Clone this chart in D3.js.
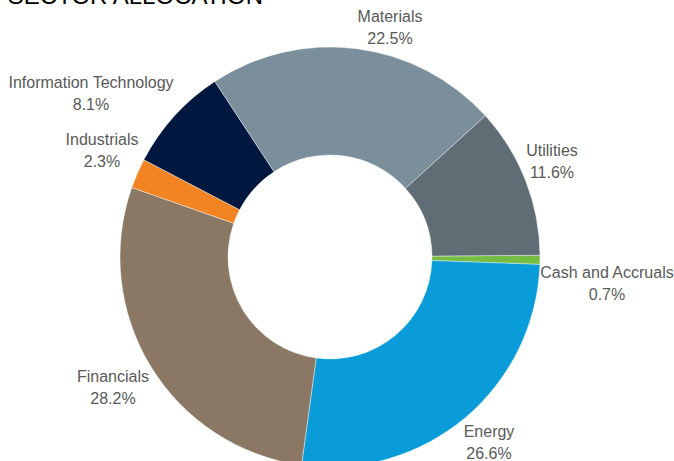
<!DOCTYPE html>
<html>
<head>
<meta charset="utf-8">
<script src="https://cdn.jsdelivr.net/npm/d3@7"></script>
<style>
  body { margin: 0; background: #fff; }
  svg { display: block; font-family: Arial, 'Liberation Sans', sans-serif; }
</style>
</head>
<body>
<svg id="chart"></svg>
<script>
// Sector allocation, in percent
const sectors = ['Cash and Accruals', 'Energy', 'Financials', 'Industrials', 'Information Technology', 'Materials', 'Utilities'];
const weights = [0.7, 26.6, 28.2, 2.3, 8.1, 22.5, 11.6];
const colors = ['#77bc43', '#099cd8', '#8a7864', '#f28423', '#001840', '#7a8f9b', '#606d75'];

// Label anchors (first line baseline), placed outside the ring
const labelPos = [
  [607, 278], [489, 437], [113, 382], [102, 145], [91, 88], [390, 22], [552, 156]
];

const width = 674;
const height = 461;
const cx = 330;
const cy = 257;
const outerR = 210;
const innerR = 102;

const svg = d3.select('#chart').attr('width', width).attr('height', height);

svg.append('text')
  .attr('x', 263)
  .attr('y', 4)
  .attr('text-anchor', 'end')
  .attr('font-size', 24)
  .attr('fill', '#000')
  .text('SECTOR ALLOCATION');

const data = sectors.map((name, i) => ({ name, value: weights[i], color: colors[i] }));

// Excel-style rotation: the first slice starts just before 3 o'clock
const start = (89.5 * Math.PI) / 180;
const pie = d3.pie()
  .sort(null)
  .value((d) => d.value)
  .startAngle(start)
  .endAngle(start + 2 * Math.PI);

const arc = d3.arc().innerRadius(innerR).outerRadius(outerR);

const g = svg.append('g').attr('transform', `translate(${cx}, ${cy})`);

g.selectAll('path')
  .data(pie(data))
  .join('path')
  .attr('d', arc)
  .attr('fill', (d) => d.data.color)
  .attr('stroke', '#fff')
  .attr('stroke-width', 0.4);

const labels = svg.append('g')
  .selectAll('text')
  .data(data)
  .join('text')
  .attr('text-anchor', 'middle')
  .attr('font-size', 16)
  .attr('fill', '#595959')
  .attr('transform', (d, i) => `translate(${labelPos[i][0]}, ${labelPos[i][1]})`);

labels.append('tspan').attr('x', 0).attr('y', 0).text((d) => d.name);
labels.append('tspan').attr('x', 0).attr('y', 22).text((d) => d3.format('.1f')(d.value) + '%');
</script>
</body>
</html>
